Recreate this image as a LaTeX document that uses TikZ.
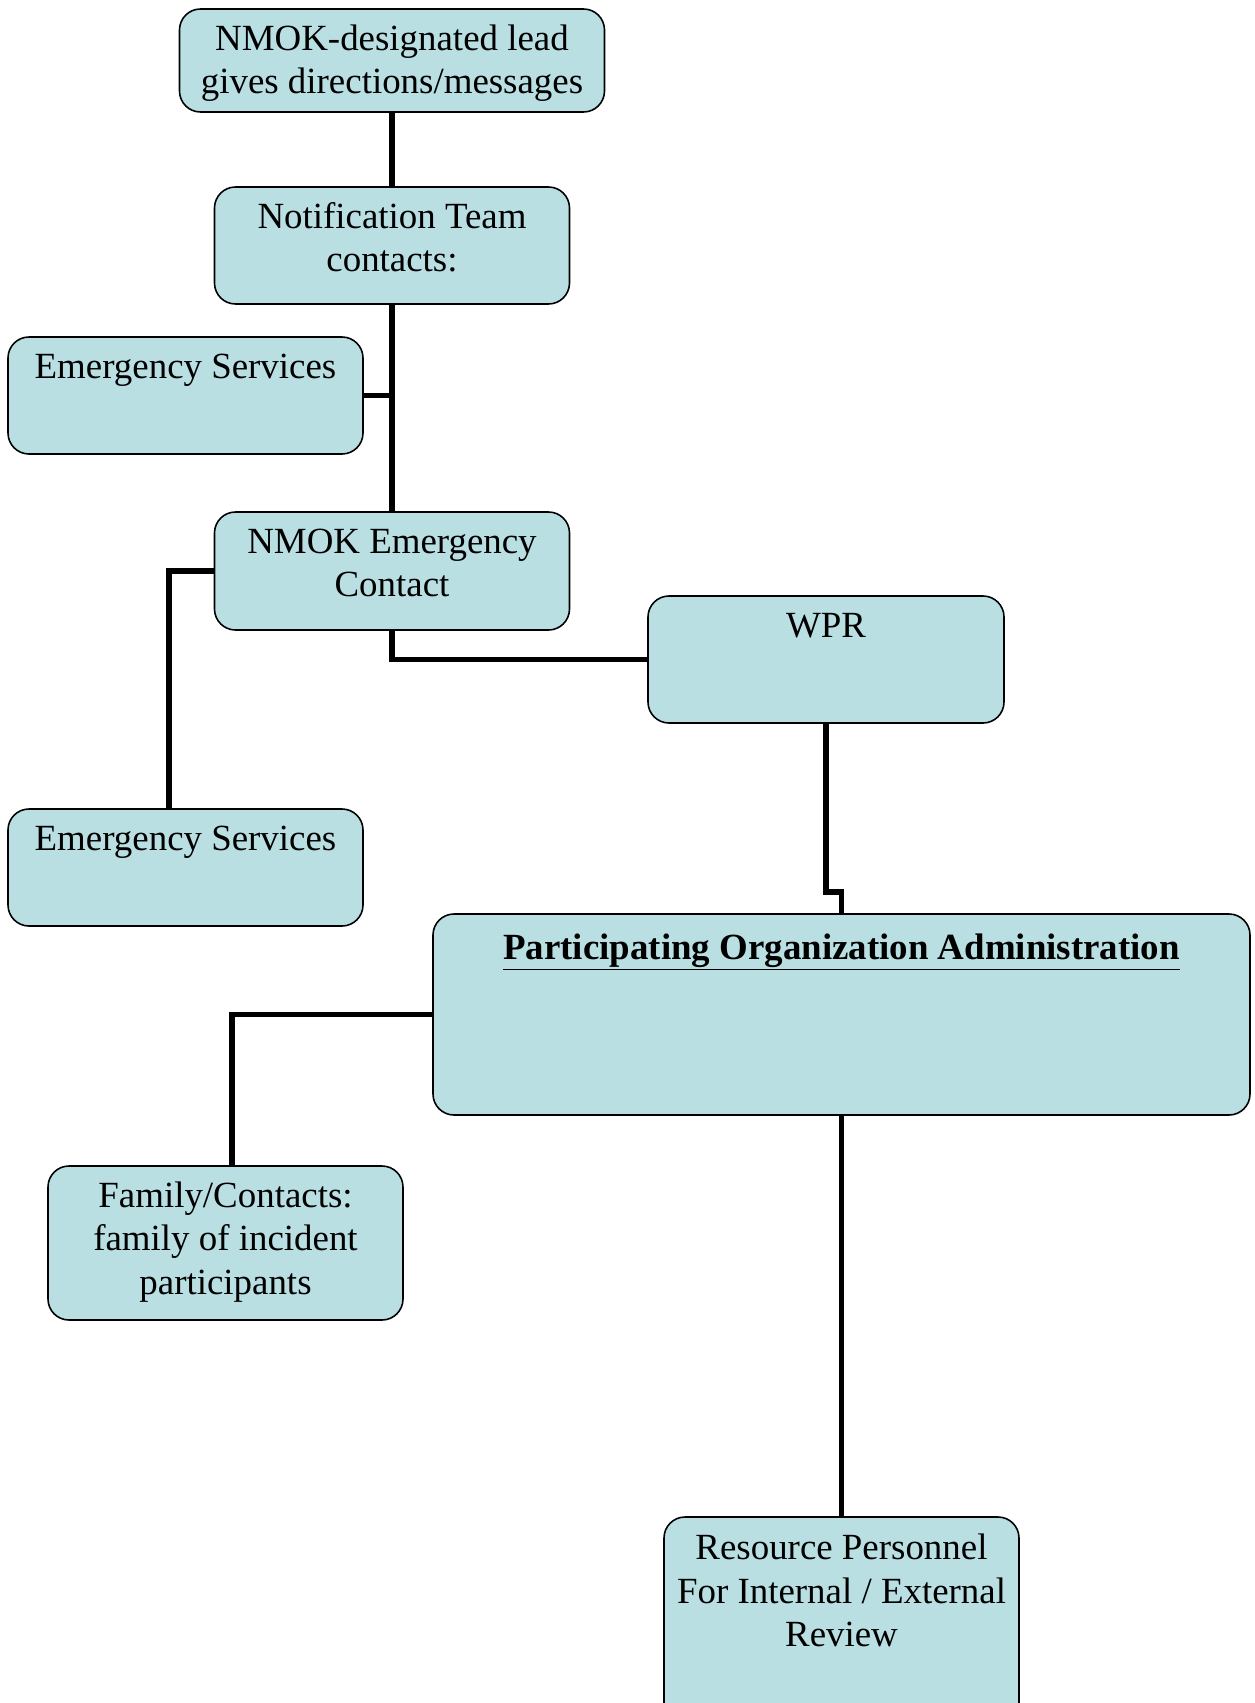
\documentclass[tikz,border=0pt]{standalone}
\usepackage{fontspec}
\setmainfont{Liberation Serif}
\usepackage{xcolor}
\usetikzlibrary{positioning}
\definecolor{boxfill}{RGB}{185,223,227}
\begin{document}
\begin{tikzpicture}[
  box/.style={draw,fill=boxfill,rounded corners=0.42cm,line width=0.9pt,inner sep=0pt},
  txt/.style={anchor=base,align=center,inner sep=0pt,font=\fontsize{21}{24.6}\selectfont},
  link/.style={line width=3.2pt}]
\clip(0,0)rectangle(25.08,-34.06);
\fill[white](0,0)rectangle(25.08,-34.06);
% boxes
\node[box,minimum width=8.5cm,minimum height=2.06cm](lead)at(7.84,-1.21){};
\node[box,minimum width=7.1cm,minimum height=2.34cm](notify)at(7.84,-4.91){};
\node[box,minimum width=7.1cm,minimum height=2.34cm](ems1)at(3.71,-7.91){};
\node[box,minimum width=7.1cm,minimum height=2.36cm](nmokec)at(7.84,-11.42){};
\node[box,minimum width=7.12cm,minimum height=2.54cm](wpr)at(16.52,-13.19){};
\node[box,minimum width=7.1cm,minimum height=2.34cm](ems2)at(3.71,-17.35){};
\node[box,minimum width=16.34cm,minimum height=4.02cm](poa)at(16.83,-20.29){};
\node[box,minimum width=7.1cm,minimum height=3.08cm](family)at(4.51,-24.86){};
\node[box,minimum width=7.1cm,minimum height=4.4cm](resource)at(16.83,-32.54){};
% texts (base = last line)
\node[txt](leadtxt)at([yshift=-1.71cm]lead.north){NMOK-designated lead\\gives directions/messages};
\node[txt](notifytxt)at([yshift=-1.71cm]notify.north){Notification Team\\contacts:};
\node[txt](ems1txt)at([yshift=-0.84cm]ems1.north){Emergency Services};
\node[txt](nmokectxt)at([yshift=-1.71cm]nmokec.north){NMOK Emergency\\Contact};
\node[txt](wprtxt)at([yshift=-0.84cm]wpr.north){WPR};
\node[txt](ems2txt)at([yshift=-0.84cm]ems2.north){Emergency Services};
\node[txt](poatxt)at([yshift=-0.92cm]poa.north){\textbf{\underline{Participating Organization Administration}}};
\node[txt](familytxt)at([yshift=-2.58cm]family.north){Family/Contacts:\\family of incident\\participants};
\node[txt](resourcetxt)at([yshift=-2.6cm]resource.north){Resource Personnel\\For Internal / External\\Review};
% connectors
\draw[link](lead.south)--(notify.north);
\draw[link](notify.south)--(nmokec.north);
\draw[link](ems1.east)--(notify.south|-ems1.east);
\draw[link](nmokec.west)-|([xshift=-0.33cm]ems2.north);
\draw[link](nmokec.south)|-(wpr.west);
\draw[link](wpr.south)--+(0,-3.36)-|(poa.north);
\draw[link](poa.west)-|([xshift=0.13cm]family.north);
\draw[link](poa.south)--(resource.north);
\end{tikzpicture}
\end{document}
